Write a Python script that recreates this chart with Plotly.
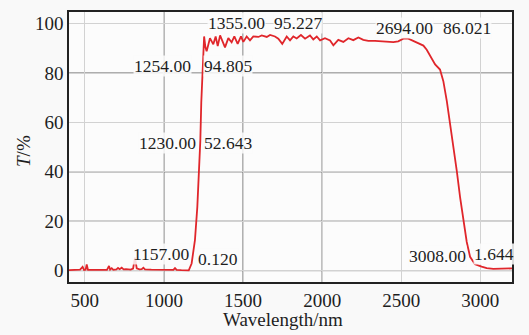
import plotly.graph_objects as go

# Transmission spectrum: wavelength (nm) and transmittance T (%)
wavelength = [
    400, 440, 470, 486, 495, 505, 512, 520, 560, 600, 640, 653, 660, 670, 680,
    700, 710, 720, 733, 745, 760, 790, 805, 817, 828, 845, 860, 870, 880, 920,
    960, 1000, 1040, 1060, 1070, 1080, 1110, 1140, 1157, 1175, 1196, 1211, 1224,
    1230, 1236, 1243, 1249, 1254, 1262, 1270, 1291, 1312, 1327, 1340, 1355, 1386,
    1407, 1428, 1445, 1466, 1487, 1502, 1523, 1544, 1565, 1597, 1618, 1650, 1671,
    1702, 1723, 1748, 1776, 1797, 1818, 1839, 1866, 1892, 1923, 1944, 1966, 1987,
    2018, 2050, 2071, 2102, 2134, 2166, 2197, 2229, 2260, 2292, 2334, 2376, 2418,
    2450, 2481, 2513, 2545, 2576, 2608, 2640, 2661, 2682, 2694, 2714, 2745, 2766,
    2788, 2808, 2829, 2851, 2872, 2893, 2914, 2935, 2966, 3008, 3040, 3082, 3140,
    3200,
]
transmittance = [
    0.2, 0.2, 0.4, 1.5, 0.3, 0.4, 2.5, 0.3, 0.2, 0.4, 0.3, 1.9, 0.4, 1.0, 0.3,
    0.5, 1.1, 0.6, 1.2, 0.5, 0.6, 0.4, 0.8, 5.3, 0.9, 0.5, 0.6, 1.2, 0.5, 0.4,
    0.3, 0.3, 0.2, 0.3, 1.0, 0.3, 0.2, 0.1, 0.120, 2.9, 12.3, 25.7, 41.8,
    52.643, 68.0, 82.0, 93.5, 94.805, 90.5, 88.8, 94.1, 91.6, 94.8, 90.9, 95.227, 90.4,
    94.1, 92.4, 94.8, 91.8, 94.8, 92.6, 94.8, 93.2, 94.8, 94.6, 95.2, 94.6, 95.4,
    94.8, 93.9, 91.8, 94.8, 93.2, 94.8, 94.0, 95.4, 93.9, 95.2, 93.6, 94.8, 93.2,
    94.1, 93.2, 91.2, 93.4, 92.6, 94.1, 93.3, 94.4, 93.4, 93.0, 93.0, 92.8, 92.5,
    92.5, 92.8, 93.9, 93.9, 93.0, 92.1, 91.1, 89.4, 87.2, 86.021, 83.5, 81.4, 76.7,
    68.6, 59.9, 49.8, 40.4, 29.7, 20.3, 11.6, 5.6, 2.6, 1.644, 1.0, 0.7, 0.8,
    0.9,
]

# Marked points and their readouts
mark_x = [1157, 1230, 1254, 1355, 2694, 3008]
mark_y = [0.120, 52.643, 94.805, 95.227, 86.021, 1.644]

# Pixel offsets of the two readout parts (x text, y text) from each marked point
label_offsets = [
    ((1.4, 16.7), (8.4, 11.7)),
    ((-3.4, -2.0), (2.9, -2.0)),
    ((-12.2, -29.4), (-0.9, -29.4)),
    ((46.1, 12.1), (53.1, 12.1)),
    ((1.8, 30.0), (10.2, 30.0)),
    ((-15.1, 10.9), (-9.1, 12.9)),
]

x_ticks = [500, 1000, 1500, 2000, 2500, 3000]
y_ticks = [0, 20, 40, 60, 80, 100]
x_dark_grid = [1000, 1500, 2000]
y_dark_grid = [0, 20, 40, 80]

x_title = "Wavelength/nm"
y_title = "<i>T</i>/%"

serif = "Liberation Serif"
ink = "#1e1e1e"

fig = go.Figure()
fig.add_trace(go.Scatter(
    x=wavelength, y=transmittance, mode="lines",
    line=dict(color="#e0262b", width=1.8),
    hoverinfo="skip", showlegend=False,
))

shapes = []
for gx in x_dark_grid:
    shapes.append(dict(type="line", xref="x", yref="paper", x0=gx, x1=gx, y0=0, y1=1,
                       line=dict(color="#5c5c5c", width=1), layer="below"))
for gy in y_dark_grid:
    shapes.append(dict(type="line", xref="paper", yref="y", x0=0, x1=1, y0=gy, y1=gy,
                       line=dict(color="#5c5c5c", width=1), layer="below"))

annotations = []
label_bg = "rgba(252,252,252,0.85)"
for mx, my, ((dx1, dy1), (dx2, dy2)) in zip(mark_x, mark_y, label_offsets):
    annotations.append(dict(
        x=mx, y=my, xref="x", yref="y", text=f"{mx:.2f}", showarrow=False,
        xanchor="right", yanchor="middle", xshift=dx1, yshift=dy1,
        font=dict(family=serif, size=17.5, color=ink), bgcolor=label_bg, borderpad=0,
    ))
    annotations.append(dict(
        x=mx, y=my, xref="x", yref="y", text=f"{my:.3f}", showarrow=False,
        xanchor="left", yanchor="middle", xshift=dx2, yshift=dy2,
        font=dict(family=serif, size=17.5, color=ink), bgcolor=label_bg, borderpad=0,
    ))

# Axis titles placed as paper-anchored text
annotations.append(dict(
    x=0.4836, y=-0.14, xref="paper", yref="paper", text=x_title, showarrow=False,
    xanchor="center", yanchor="middle", font=dict(family=serif, size=19, color=ink),
))
annotations.append(dict(
    x=-0.104, y=0.485, xref="paper", yref="paper", text=y_title, showarrow=False,
    xanchor="center", yanchor="middle", textangle=-90,
    font=dict(family=serif, size=19, color=ink),
))

fig.update_layout(
    width=529, height=335,
    margin=dict(l=69, r=17, t=10, b=53),
    paper_bgcolor="#f9f9f9",
    plot_bgcolor="#fcfcfc",
    font=dict(family=serif, color=ink),
    shapes=shapes,
    annotations=annotations,
    xaxis=dict(
        range=[400, 3200], tickvals=x_ticks, ticks="",
        showgrid=True, gridcolor="#d2d2d2", gridwidth=1, zeroline=False,
        showline=True, mirror=True, linecolor="#222222", linewidth=1.5,
        tickfont=dict(family=serif, size=19, color=ink),
    ),
    yaxis=dict(
        range=[-4.6, 104.7], tickvals=y_ticks, ticks="",
        showgrid=True, gridcolor="#d2d2d2", gridwidth=1, zeroline=False,
        showline=True, mirror=True, linecolor="#222222", linewidth=1.5,
        tickfont=dict(family=serif, size=19, color=ink),
    ),
)

fig.write_html("out.html")
